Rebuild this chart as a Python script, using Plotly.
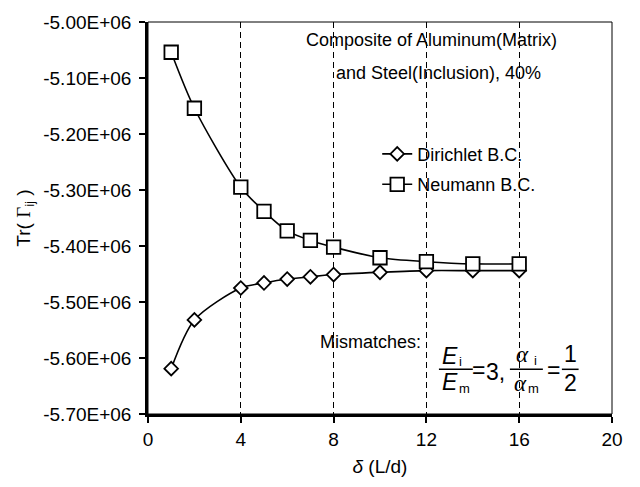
import plotly.graph_objects as go

# Ratio of specimen length to inclusion diameter
delta = [1, 2, 4, 5, 6, 7, 8, 10, 12, 14, 16]

# Trace of the Eshelby-type tensor for both boundary conditions
dirichlet = [-5.619e6, -5.532e6, -5.475e6, -5.466e6, -5.459e6, -5.455e6,
             -5.451e6, -5.447e6, -5.444e6, -5.444e6, -5.444e6]
neumann = [-5.054e6, -5.154e6, -5.295e6, -5.338e6, -5.373e6, -5.390e6,
           -5.402e6, -5.421e6, -5.428e6, -5.432e6, -5.432e6]

y_ticks = [-5.0e6, -5.1e6, -5.2e6, -5.3e6, -5.4e6, -5.5e6, -5.6e6, -5.7e6]
y_tick_text = ["-5.00E+06", "-5.10E+06", "-5.20E+06", "-5.30E+06",
               "-5.40E+06", "-5.50E+06", "-5.60E+06", "-5.70E+06"]
x_ticks = [0, 4, 8, 12, 16, 20]

FONT = "Liberation Sans, Arial, sans-serif"
SERIF = "Liberation Serif, Times New Roman, serif"

fig = go.Figure()
fig.add_trace(go.Scatter(
    x=delta, y=dirichlet, name="Dirichlet B.C.", mode="lines+markers",
    legendgroup="d",
    line=dict(color="black", width=1.6, shape="spline", smoothing=0.8),
    marker=dict(symbol="diamond", size=10.5, color="white",
                line=dict(color="black", width=1.8)),
))
fig.add_trace(go.Scatter(
    x=delta, y=neumann, name="Neumann B.C.", mode="lines+markers",
    legendgroup="n",
    line=dict(color="black", width=1.6, shape="spline", smoothing=0.8),
    marker=dict(symbol="square", size=13.5, color="white",
                line=dict(color="black", width=1.8)),
))

fig.update_layout(
    width=640, height=487,
    margin=dict(l=148, r=28, t=15, b=68),
    paper_bgcolor="white", plot_bgcolor="white",
    font=dict(family=FONT, size=18, color="black"),
    showlegend=True,
    legend=dict(x=0.494, y=0.71, xanchor="left", yanchor="top",
                bgcolor="rgba(0,0,0,0)", font=dict(family=FONT, size=18),
                traceorder="grouped", tracegroupgap=4),
    xaxis=dict(
        range=[0, 20], tickvals=x_ticks, ticks="outside", ticklen=6,
        tickwidth=1.5, tickcolor="black",
        tickfont=dict(family=FONT, size=19),
        showline=True, linecolor="black", linewidth=2.5,
        showgrid=True, gridcolor="black", gridwidth=1, griddash="6px,4px",
        zeroline=False,
        title=dict(text="<i>δ</i> (L/d)", font=dict(family=FONT, size=19),
                   standoff=12),
    ),
    yaxis=dict(
        range=[-5.7e6, -5.0e6], tickvals=y_ticks, ticktext=y_tick_text,
        ticks="outside", ticklen=6, tickwidth=1.5, tickcolor="black",
        tickfont=dict(family=FONT, size=19), ticklabelstandoff=4,
        showline=True, linecolor="black", linewidth=2.5,
        showgrid=False, zeroline=False,
        title=dict(text="Tr( <span style='font-family:Liberation Serif'>Γ</span>"
                        "<sub>ij</sub> )",
                   font=dict(family=FONT, size=19, color="black"),
                   standoff=8),
    ),
)

# thin frame around the plotting area
fig.add_shape(type="rect", xref="paper", yref="paper", x0=0, y0=0, x1=1, y1=1,
              line=dict(color="black", width=1), layer="above")


def note(x, y, text, size=18, family=FONT, xanchor="center"):
    fig.add_annotation(xref="paper", yref="paper", x=x, y=y, text=text,
                       showarrow=False, xanchor=xanchor, yanchor="middle",
                       font=dict(family=family, size=size, color="black"))


def bar(x0, x1, y):
    fig.add_shape(type="line", xref="paper", yref="paper", x0=x0, x1=x1,
                  y0=y, y1=y, line=dict(color="black", width=1.5))


# descriptive notes
note(0.612, 0.955, "Composite of Aluminum(Matrix)")
note(0.625, 0.869, "and Steel(Inclusion), 40%")
note(0.366, 0.183, "Mismatches:", xanchor="left")

# mismatch ratios written as stacked fractions
BIG = 23
SUB = 13
note(0.651, 0.148, "<i>E</i>", BIG)
note(0.674, 0.133, "i", SUB)
bar(0.627, 0.700, 0.114)
note(0.651, 0.082, "<i>E</i>", BIG)
note(0.682, 0.064, "m", SUB)
note(0.713, 0.113, "=", BIG)
note(0.748, 0.108, "3,", BIG)
note(0.808, 0.153, "<i>α</i>", BIG, SERIF)
note(0.835, 0.136, "i", SUB)
bar(0.780, 0.851, 0.114)
note(0.802, 0.079, "<i>α</i>", BIG, SERIF)
note(0.831, 0.064, "m", SUB)
note(0.873, 0.113, "=", BIG)
note(0.910, 0.153, "1", BIG)
bar(0.892, 0.928, 0.114)
note(0.910, 0.078, "2", BIG)

fig.write_html("out.html")
